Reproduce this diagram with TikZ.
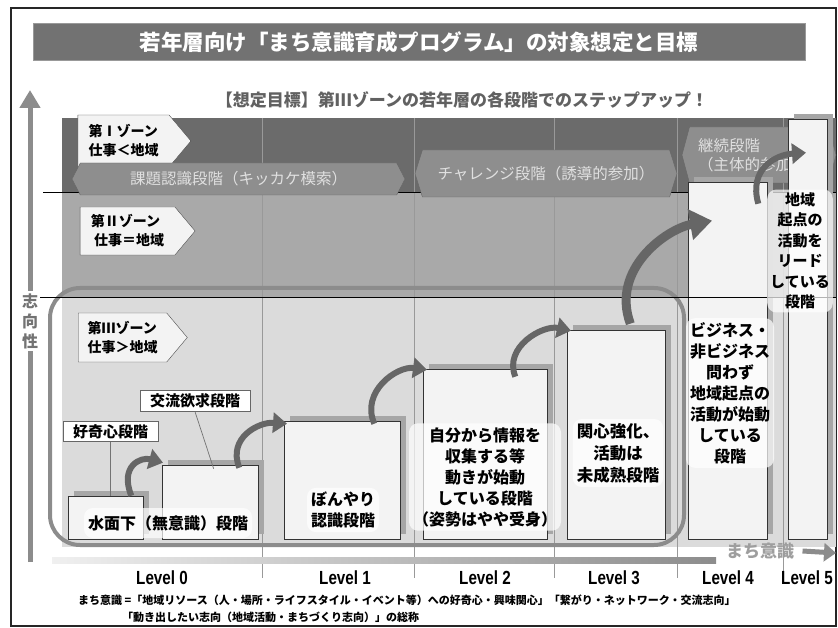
\documentclass[tikz,border=0pt]{standalone}
\usepackage{fontspec}
\setmainfont{Noto Sans CJK JP}
\newfontfamily\lvfont{Liberation Sans}
\usepackage{graphicx}
\usetikzlibrary{arrows.meta,positioning,calc,shapes.symbols,shadows}
\definecolor{zonedark}{HTML}{6B6B6B}
\definecolor{zonemid}{HTML}{A9A9A9}
\definecolor{zonelight}{HTML}{DBDBDB}
\definecolor{titlegray}{HTML}{727272}
\definecolor{bannergray}{HTML}{8E8E8E}
\definecolor{arrowgray}{HTML}{666666}
\definecolor{boxfill}{HTML}{F3F3F3}
\definecolor{shadowgray}{HTML}{A6A6A6}
\definecolor{axisgray}{HTML}{8C8C8C}
\newcommand{\fs}[2]{\fontsize{#1}{#2}\selectfont}
\newcommand{\lvl}[1]{\scalebox{0.8}[1]{Level #1}}

\begin{document}
\begin{tikzpicture}[x=1pt, y=-1pt,
    zonetag/.style={signal, signal to=east, draw=black!70, fill=boxfill, align=left,
                    font=\fs{14}{19}\bfseries, inner sep=2pt, signal pointer angle=100},
    banner/.style={signal, signal to=west and east, draw=black!60, fill=bannergray,
                   text=white!88!black, font=\fs{15.5}{19}},
    stage/.style={draw=black!80, fill=boxfill, line width=1.3pt, anchor=south west, inner sep=0pt,
                  general shadow={fill=shadowgray, shadow xshift=5pt, shadow yshift=5pt}},
    memo/.style={fill=white, fill opacity=0.7, text opacity=1, rounded corners=9pt, align=center,
                 font=\fs{16}{21}\bfseries, inner sep=4pt},
    callout/.style={draw=black!60, fill=white, line width=0.8pt, font=\fs{15}{17}\bfseries,
                    inner xsep=10pt, inner ysep=3pt},
    climb/.style={draw=arrowgray, line width=6pt, -{Triangle[length=14pt,width=20pt]}},
    level/.style={font=\lvfont\fs{19}{19}\bfseries},
    colline/.style={draw=black!40, line width=0.8pt}
]
\useasboundingbox (0,0) rectangle (838,628);
\draw[black!85, line width=1.2pt] (11,8) rectangle (836,626);

\node[fill=titlegray, draw=black!40, minimum width=772pt, minimum height=37pt, text=white,
      font=\fs{21.5}{24}\bfseries] (ttl) at (419,42) {若年層向け「まち意識育成プログラム」の対象想定と目標};
\node[text=black!62, font=\fs{17}{20}\bfseries] (sub) at (462,100) {【想定目標】第Ⅲゾーンの若年層の各段階でのステップアップ！};

% zones
\fill[zonedark] (62,118) rectangle (836,193);
\fill[zonemid] (62,193) rectangle (836,298);
\fill[zonelight] (62,298) rectangle (836,547);
\foreach \cx in {262,414,554,677,783}
  \draw[colline] (\cx,118) -- (\cx,578);
\draw[black, line width=1pt] (43,193) -- (836,193);

\node[zonetag, minimum width=113pt, minimum height=52pt] (z1) at (123.5,141) {第Ⅰゾーン\\仕事＜地域};
\node[zonetag, minimum width=115pt, minimum height=48pt] (z2) at (127.5,231) {第Ⅱゾーン\\\ 仕事＝地域};
\node[zonetag, minimum width=109pt, minimum height=49pt] (z3) at (122.5,337.5) {第Ⅲゾーン\\仕事＞地域};

\node[banner, minimum width=333pt, minimum height=32pt, signal pointer angle=125] (kadai) at (238.5,179) {課題認識段階（キッカケ模索）};
\node[banner, minimum width=262pt, minimum height=47pt, signal pointer angle=145] (chal) at (546,173.5) {チャレンジ段階（誘導的参加）};
\node[banner, minimum width=154pt, minimum height=56pt, signal pointer angle=150, align=left,
      text width=122pt] (keizoku) at (759,155) {継続段階\\（主体的参加）};

\draw[black!45, line width=4pt, rounded corners=30pt] (50,288) rectangle (684,545);

% stages
\node[stage, minimum width=75pt, minimum height=43pt] (bA) at (68,540) {};
\node[stage, minimum width=96pt, minimum height=74pt] (bB) at (162,540) {};
\node[stage, minimum width=116pt, minimum height=118pt] (bC) at (284,540) {};
\node[stage, minimum width=124pt, minimum height=170pt] (bD) at (423,540) {};
\node[stage, minimum width=98pt, minimum height=209pt] (bE) at (567,540) {};
\node[stage, minimum width=79pt, minimum height=357pt] (bF) at (688,540) {};
\node[stage, minimum width=39pt, minimum height=420pt] (bG) at (788,540) {};

\draw[black, line width=1pt] (38,298) -- (836,298);

\draw[climb] ([xshift=-13pt]bA.north east) .. controls +(-12,-30) and +(-22,-6) .. ([xshift=1pt,yshift=2pt]bB.north west);
\draw[climb] ([xshift=-20pt,yshift=-3pt]bB.north east) .. controls +(-12,-30) and +(-28,-2) .. ([xshift=3pt,yshift=-3pt]bC.north west);
\draw[climb] ([xshift=-27pt,yshift=-3pt]bC.north east) .. controls +(-14,-32) and +(-30,-4) .. ([xshift=4pt,yshift=-1pt]bD.north west);
\draw[climb] ([xshift=-33pt,yshift=-8pt]bD.north east) .. controls +(-12,-30) and +(-28,-6) .. ([xshift=4pt,yshift=-1pt]bE.north west);
\draw[climb, line width=9pt, -{Triangle[length=22pt,width=30pt]}] ([xshift=-36pt,yshift=6pt]bE.north east)
  .. controls +(-20,-55) and +(-45,8) .. ([xshift=24pt,yshift=-39pt]bF.north west);
\draw[climb] ([xshift=-10pt,yshift=-22pt]bF.north east) .. controls +(-10,-35) and +(-30,2) .. ([xshift=18pt,yshift=-34pt]bG.north west);

\node[memo, minimum height=30pt] (t0) at (168,523) {水面下（無意識）段階};
\node[memo] (t1) at (343,510) {ぼんやり\\認識段階};
\node[memo] (t2) at (485,477) {自分から情報を\\収集する等\\動きが始動\\している段階\\（姿勢はやや受身）};
\node[memo, font=\fs{16.5}{22}\bfseries] (t3) at (618,453) {関心強化、\\活動は\\未成熟段階};
\node[memo] (t4) at (730,393) {ビジネス・\\非ビジネス\\問わず\\地域起点の\\活動が始動\\している\\段階};
\node[memo, font=\fs{15}{20.5}\bfseries, inner sep=3pt] (t5) at (800,251) {地域\\起点の\\活動を\\リード\\している\\段階};

\node[callout] (c0) at (110.5,431.5) {好奇心段階};
\node[callout] (c1) at (195,401) {交流欲求段階};
\draw[black!55, line width=0.7pt] (c0.south) -- (c0.south |- bA.north);
\draw[black!55, line width=0.7pt] (c1.south) -- ([xshift=3pt,yshift=-4pt]bB.north);

% axes
\coordinate (vbot) at (30,562);
\coordinate (vtop) at (30,90);
\draw[axisgray, line width=5pt, -{Triangle[length=18pt,width=20pt]}] (vbot) -- (vtop);
\node[fill=white, text=black!55, align=center, font=\fs{16}{20}\bfseries, inner sep=2pt] (shiko) at (30,321) {志\\向\\性};

\shade[left color=black!6, right color=black!45] (52,557) rectangle (716,563);
\node[text=black!38, font=\fs{17}{20}\bfseries] (mk) at (760,551) {まち意識};
\coordinate (hend) at (836,553);
\draw[black!45, line width=5pt, -{Triangle[length=12pt,width=18pt]}] ([xshift=5pt]mk.east) -- (hend);

\node[level] (lv0) at (162,578) {\lvl{0}};
\node[level] (lv1) at (345,578) {\lvl{1}};
\node[level] (lv2) at (485,578) {\lvl{2}};
\node[level] (lv3) at (614,578) {\lvl{3}};
\node[level] (lv4) at (728,578) {\lvl{4}};
\node[level] (lv5) at (807,578) {\lvl{5}};

\node[anchor=west, font=\fs{11}{13}\bfseries, inner sep=0pt] (fn1) at (78,600) {まち意識 =「地域リソース（人・場所・ライフスタイル・イベント等）への好奇心・興味関心」「繋がり・ネットワーク・交流志向」};
\node[anchor=west, font=\fs{11}{13}\bfseries, inner sep=0pt] (fn2) at (122,617) {「動き出したい志向（地域活動・まちづくり志向）」の総称};
\end{tikzpicture}
\end{document}
